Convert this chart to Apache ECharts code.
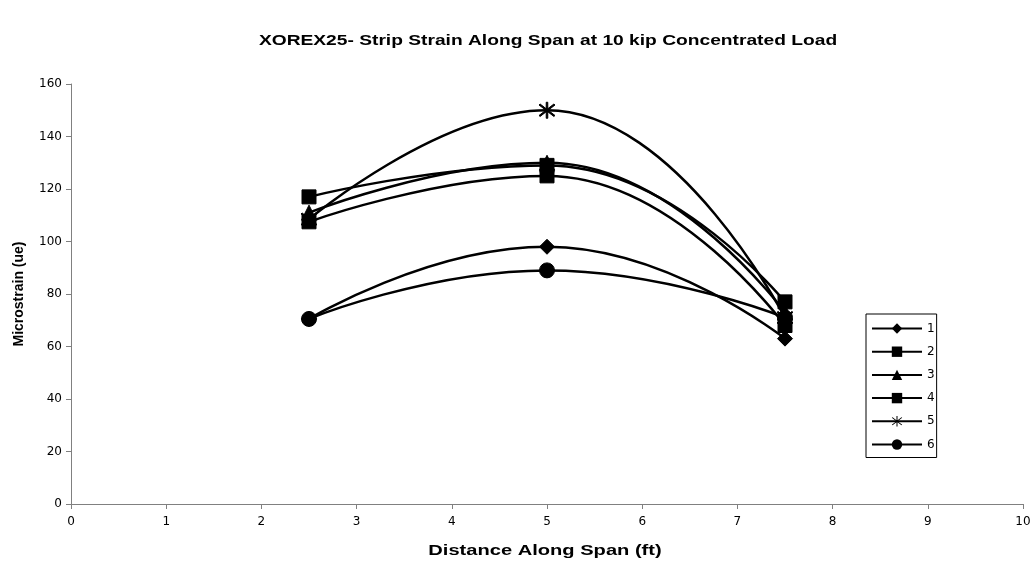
<!DOCTYPE html>
<html>
<head>
<meta charset="utf-8">
<script src="https://cdn.jsdelivr.net/npm/echarts@6/dist/echarts.min.js"></script>
<style>html,body{margin:0;padding:0;background:#fff}#c{width:1036px;height:572px}</style>
</head>
<body>
<div id="c"></div>
<script>
const xPositions = [2.5, 5, 7.5];
const seriesNames = ['1', '2', '3', '4', '5', '6'];
const s1 = [70.5, 98, 63];
const s2 = [117, 129, 77];
const s3 = [111, 130, 73];
const s4 = [107.5, 125, 68];
const s5 = [108.5, 150, 71];
const s6 = [70.5, 89, 71];
const seriesValues = [s1, s2, s3, s4, s5, s6];
const xTicks = [0,1,2,3,4,5,6,7,8,9,10];
const yTicks = [0,20,40,60,80,100,120,140,160];
const titleText = 'XOREX25- Strip Strain Along Span at 10 kip Concentrated Load';
const xName = 'Distance Along Span (ft)';
const yName = 'Microstrain (ue)';

const star = 'path://M9.2 0H10.8V20H9.2Z M1.8 3.4L3.0 2.3L18.2 16.6L17.0 17.7Z M17.0 2.3L18.2 3.4L3.0 17.7L1.8 16.6Z';
const symbols = ['diamond', 'rect', 'triangle', 'rect', star, 'circle'];
const sizes = [15, 14, 15, 14, 16, 15];

const chart = echarts.init(document.getElementById('c'), null, {renderer: 'canvas'});
const font = 'Liberation Sans, Arial, sans-serif';
const tickFont = 'DejaVu Sans, sans-serif';
chart.setOption({
  animation: false,
  backgroundColor: '#fff',
  graphic: [
    {type: 'text', x: 548, y: 41, scaleX: 1.28,
     style: {text: titleText, font: 'bold 15px ' + font, fill: '#000', textAlign: 'center', textVerticalAlign: 'middle'}},
    {type: 'text', x: 545, y: 551, scaleX: 1.34,
     style: {text: xName, font: 'bold 15px ' + font, fill: '#000', textAlign: 'center', textVerticalAlign: 'middle'}}
  ],
  grid: {left: 71, right: 13, top: 84, bottom: 68, containLabel: false},
  xAxis: {
    type: 'value', min: 0, max: 10, interval: 1,
    axisLine: {lineStyle: {color: '#808080', width: 1}},
    axisTick: {show: true, length: 5, lineStyle: {color: '#808080'}},
    axisLabel: {fontFamily: tickFont, fontSize: 12, color: '#000', margin: 12,
      formatter: v => xTicks.includes(v) ? String(v) : ''},
    splitLine: {show: false}
  },
  yAxis: {
    type: 'value', min: 0, max: 160, interval: 20,
    name: yName, nameLocation: 'middle', nameGap: 45, nameRotate: 90,
    nameTextStyle: {fontFamily: font, fontSize: 14, fontWeight: 'bold', color: '#000'},
    axisLine: {show: true, lineStyle: {color: '#808080', width: 1}},
    axisTick: {show: true, length: 5, lineStyle: {color: '#808080'}},
    axisLabel: {fontFamily: tickFont, fontSize: 12, color: '#000', margin: 9,
      formatter: v => yTicks.includes(v) ? String(v) : ''},
    splitLine: {show: false}
  },
  legend: {
    orient: 'vertical', left: 866, top: 314,
    itemWidth: 50, itemHeight: 13, itemGap: 11.2,
    padding: [8.5, 2, 7, 5],
    borderColor: '#000', borderWidth: 1,
    textStyle: {fontFamily: tickFont, fontSize: 12, color: '#000'},
    data: seriesNames
  },
  series: seriesValues.map((vals, i) => ({
    name: seriesNames[i],
    type: 'line',
    smooth: 0.5,
    data: xPositions.map((x, j) => [x, vals[j]]),
    symbol: symbols[i],
    symbolSize: sizes[i],
    showAllSymbol: true,
    lineStyle: {color: '#000', width: 2.5},
    itemStyle: {color: '#000', borderColor: '#000'},
    emphasis: {disabled: true}
  }))
});
</script>
</body>
</html>
